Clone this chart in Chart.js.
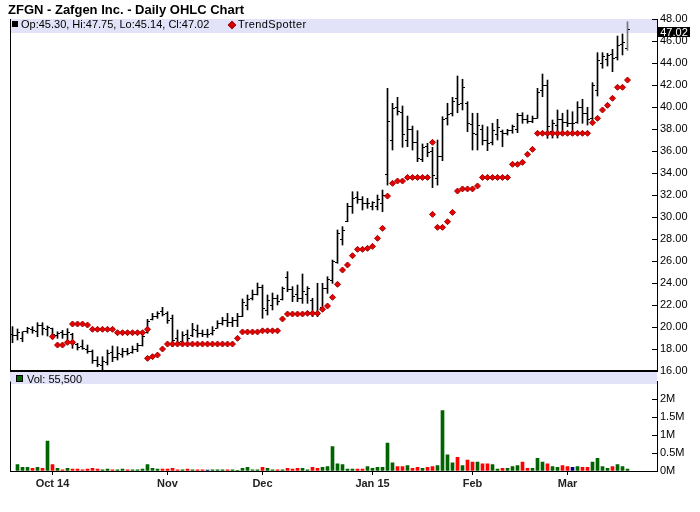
<!DOCTYPE html>
<html><head><meta charset="utf-8">
<script src="https://cdn.jsdelivr.net/npm/chart.js@4.4.1/dist/chart.umd.min.js"></script>
<style>
html,body{margin:0;padding:0;background:#fff;}
#wrap{position:relative;width:700px;height:512px;overflow:hidden;font-family:"Liberation Sans",Arial,sans-serif;color:#000;}
.abs{position:absolute;}
.band{position:absolute;background:#E2E2F8;z-index:1;}
canvas{position:absolute;left:0;z-index:2;}
#title{left:8px;top:2px;font-weight:bold;font-size:13px;line-height:15px;white-space:nowrap;z-index:3;}
.leg{font-size:11px;line-height:11px;white-space:nowrap;z-index:3;}
#pbox{left:658px;width:32px;height:10px;background:#000;color:#fff;font-size:11px;line-height:10px;text-align:center;z-index:3;}
</style></head><body>
<div id="wrap">
  <div id="title" class="abs">ZFGN - Zafgen Inc. - Daily OHLC Chart</div>
  <div class="band" style="left:10px;top:19px;width:647px;height:14px;"></div>
  <div class="abs" style="left:12px;top:21px;width:6px;height:6px;background:#000;z-index:3;"></div>
  <div id="ohlcText" class="abs leg" style="left:21px;top:18.5px;"></div>
  <div class="abs" style="left:229px;top:22px;width:4px;height:4px;background:#E00000;border:1px solid #A00000;transform:rotate(45deg);z-index:3;"></div>
  <div class="abs leg" style="left:238px;top:18.5px;letter-spacing:0.4px;">TrendSpotter</div>
  <div class="band" style="left:10px;top:372px;width:647px;height:12px;"></div>
  <div class="abs" style="left:16px;top:375px;width:5px;height:5px;background:#006400;border:1px solid #000;z-index:3;"></div>
  <div id="volText" class="abs leg" style="left:27px;top:373.5px;"></div>
  <div id="pbox" class="abs"></div>
  <canvas id="pc" width="700" height="390" style="top:0;"></canvas>
  <canvas id="vc" width="700" height="140" style="top:372px;"></canvas>
</div>
<script>
// ---- data (index 0 = 19 Sep 2014 ... index 123 = 18 Mar 2015) ----
const opens = [19.3,19.2,19.0,19.6,19.8,19.6,20.1,19.8,19.9,19.2,
 19.5,19.3,19.3,18.4,18.2,18.0,17.8,17.0,16.5,16.8,
 17.7,17.2,17.5,17.8,17.7,18.0,18.3,19.5,20.7,21.0,
 21.4,21.2,20.8,19.0,18.7,19.3,19.2,19.7,19.4,19.3,
 19.4,19.9,20.3,20.6,20.4,20.6,21.0,22.0,22.6,23.0,
 23.6,21.5,22.0,22.6,22.5,24.5,23.4,23.0,22.6,23.0,
 22.4,21.3,21.8,23.5,24.2,25.9,28.0,29.6,31.0,31.8,
 31.6,31.2,31.0,31.0,31.2,33.9,37.0,40.0,39.5,37.0,
 38.0,36.8,35.2,36.4,36.0,33.5,35.5,39.0,39.4,40.8,
 40.3,40.3,38.4,37.5,38.0,37.0,36.8,37.5,37.8,37.6,
 37.9,38.0,39.2,38.9,38.7,39.0,41.5,42.0,37.8,38.3,
 38.9,38.6,38.5,38.6,40.0,39.4,39.0,41.5,44.0,44.3,
 44.8,44.5,45.7,45.30];
const highs = [20.03,19.82,19.57,19.97,20.03,20.39,20.39,20.1,19.9,19.57,
 19.7,19.85,19.43,18.52,18.82,18.36,17.91,17.3,17.3,17.91,
 18.27,18.21,18.06,18.06,18.27,18.52,19.27,20.7,21.24,21.39,
 21.79,21.39,21.09,19.73,19.57,19.73,20.33,20.18,19.73,19.8,
 20.03,20.57,20.88,21.24,20.88,21.24,22.55,22.91,23.36,24.0,
 23.82,22.91,23.09,22.91,23.64,25.03,23.67,23.82,24.82,23.67,
 22.61,23.97,23.97,24.57,26.09,28.82,29.12,31.24,32.3,32.3,
 31.85,31.7,31.39,32.0,32.45,41.7,40.34,40.88,40.09,39.18,
 38.27,37.85,36.64,36.7,36.34,37.0,39.12,40.34,40.88,42.82,
 42.52,40.48,39.43,39.43,38.36,38.21,38.52,38.88,37.91,37.97,
 38.36,39.43,39.48,39.27,39.18,41.7,43.0,42.45,38.82,39.73,
 39.43,39.73,39.57,40.48,40.7,39.97,42.21,44.94,44.94,44.88,
 45.24,46.45,46.64,47.75];
const lows = [18.57,18.82,18.66,19.43,19.43,19.12,19.27,19.18,18.91,18.97,
 18.97,18.52,18.06,17.91,17.97,17.61,16.7,16.39,16.09,16.55,
 16.85,17.0,17.25,17.45,17.61,17.76,18.27,19.43,20.64,20.79,
 21.0,20.33,18.21,18.36,18.66,18.76,19.12,19.06,19.12,19.06,
 19.27,19.88,20.18,20.03,20.03,20.03,20.94,21.55,22.45,22.91,
 20.79,21.09,21.55,22.0,22.45,23.21,22.3,22.3,22.15,22.15,
 20.94,20.94,21.55,23.06,23.97,25.79,27.45,29.57,30.33,31.24,
 30.64,30.79,30.64,30.64,30.48,32.9,36.09,39.27,36.34,36.39,
 36.09,35.03,35.03,35.48,32.67,32.9,35.12,38.36,39.18,39.48,
 39.73,37.76,36.09,36.09,36.55,36.03,36.55,37.0,36.39,37.45,
 37.61,37.67,38.52,38.52,38.57,38.97,40.94,37.15,37.18,37.18,
 37.61,38.21,37.45,38.52,38.52,38.36,38.82,41.0,43.52,43.73,
 43.21,44.27,44.73,45.14];
const closes = [19.2,19.5,19.55,19.85,19.7,20.1,19.9,20.0,19.3,19.4,
 19.3,19.5,18.5,18.1,18.05,17.8,17.0,16.6,16.9,17.6,
 17.2,17.6,17.8,17.6,18.0,18.3,19.1,20.5,21.0,21.2,
 21.1,20.6,18.8,18.6,19.2,19.0,19.8,19.4,19.3,19.3,
 19.7,20.3,20.6,20.4,20.6,21.0,22.2,22.5,23.0,23.6,
 21.7,22.4,22.6,22.3,23.5,23.4,22.8,22.6,23.2,23.5,
 21.3,21.1,23.5,24.3,26.0,28.5,28.8,31.0,31.7,31.6,
 31.2,31.25,31.35,31.6,32.0,38.7,39.9,39.6,37.5,38.0,
 36.8,35.3,36.3,35.9,33.8,35.5,38.9,39.3,40.5,40.2,
 41.8,38.5,37.6,38.3,37.0,36.7,37.9,38.1,37.6,37.9,
 38.2,39.2,38.9,38.7,38.95,41.3,42.0,38.2,38.5,38.9,
 38.6,38.5,38.5,40.0,39.4,38.9,42.0,44.2,44.6,44.7,
 44.4,45.6,45.9,47.02];
const volumes = [null,175000,100000,100000,75000,100000,75000,825000,175000,75000,
 30000,75000,50000,50000,30000,50000,75000,50000,30000,50000,
 30000,30000,50000,30000,30000,30000,50000,175000,75000,50000,
 50000,50000,75000,30000,30000,50000,30000,30000,30000,25000,
 30000,30000,30000,30000,30000,20000,75000,100000,30000,30000,
 100000,75000,30000,30000,30000,75000,50000,75000,75000,30000,
 100000,75000,100000,125000,675000,200000,175000,50000,50000,50000,
 50000,125000,75000,100000,100000,775000,225000,125000,125000,150000,
 75000,100000,75000,100000,125000,150000,1675000,450000,225000,375000,
 150000,300000,250000,250000,200000,200000,175000,50000,75000,75000,
 125000,150000,250000,75000,75000,350000,250000,200000,125000,100000,
 150000,125000,100000,125000,100000,100000,250000,350000,125000,75000,
 125000,175000,125000,55500];
const tsIdx = [8,9,10,11,12,
 12,13,14,15,
 16,17,18,19,20,
 21,22,23,24,25,26,
 27,
 27,28,29,30,
 31,32,33,34,35,36,37,38,39,40,41,42,43,44,
 45,
 46,47,48,49,50,51,52,53,
 54,55,56,57,58,59,60,61,
 62,63,64,65,66,67,68,69,70,71,72,73,74,75,
 76,77,78,79,80,81,82,83,
 84,
 84,85,86,87,88,89,90,91,92,93,
 94,95,96,97,98,99,
 100,101,102,103,104,
 105,106,107,108,109,110,111,112,113,114,115,
 116,117,118,119,120,121,122,123];
const tsVal = [19.12,18.36,18.36,18.61,18.61,
 20.27,20.27,20.27,20.18,
 19.79,19.79,19.79,19.79,19.79,
 19.48,19.48,19.48,19.48,19.48,19.48,
 19.79,
 17.15,17.3,17.45,18.0,
 18.45,18.45,18.45,18.45,18.45,18.45,18.45,18.45,18.45,18.45,18.45,18.45,18.45,18.45,
 18.97,
 19.55,19.55,19.55,19.55,19.65,19.65,19.65,19.65,
 20.73,21.18,21.18,21.18,21.18,21.24,21.24,21.24,
 21.61,21.91,22.7,23.88,25.18,25.64,26.48,27.06,27.06,27.15,27.33,28.06,28.97,31.9,
 33.06,33.27,33.27,33.6,33.6,33.6,33.6,33.6,
 36.79,
 30.24,29.06,29.06,29.57,30.42,32.36,32.55,32.55,32.55,32.82,
 33.6,33.6,33.6,33.6,33.6,33.6,
 34.79,34.79,34.97,35.7,36.15,
 37.61,37.61,37.61,37.61,37.61,37.61,37.61,37.61,37.61,37.61,37.61,
 38.57,38.97,39.73,40.15,40.79,41.79,41.79,42.45];
const monthStarts = [8,31,50,72,92,111];
const monthLabels = ['Oct 14','Nov','Dec','Jan 15','Feb','Mar'];
const priceTicks = {min:16, max:48, step:2};
const volTicks = [0,500000,1000000,1500000,2000000];

// ---- chart ----
const last = closes.length - 1;
const X_MIN = -0.5, X_MAX = 128.9;
document.getElementById('ohlcText').textContent =
  'Op:' + opens[last].toFixed(2) + ', Hi:' + highs[last].toFixed(2) +
  ', Lo:' + lows[last].toFixed(2) + ', Cl:' + closes[last].toFixed(2);
document.getElementById('volText').textContent = 'Vol: ' + volumes[last].toLocaleString('en-US');

function tickImg(left){
  const c = document.createElement('canvas'); c.width = 5; c.height = 1;
  const g = c.getContext('2d'); g.fillStyle = '#000';
  g.fillRect(left ? 0 : 3, 0, 2, 1); return c;
}
const openImg = tickImg(true), closeImg = tickImg(false);

const frame = {
  id: 'frame',
  beforeDatasetsDraw(chart){ chart.ctx.imageSmoothingEnabled = false; },
  afterDraw(chart, args, opts){
    const {ctx, chartArea: a} = chart;
    ctx.save();
    ctx.strokeStyle = '#000'; ctx.lineWidth = 1;
    ctx.beginPath(); ctx.moveTo(a.left + 0.5, a.top); ctx.lineTo(a.left + 0.5, a.bottom); ctx.stroke();
    const ys = chart.scales.y;
    ys.ticks.forEach(t => {
      const y = Math.round(ys.getPixelForValue(t.value)) + 0.5;
      ctx.beginPath(); ctx.moveTo(a.right - 5, y); ctx.lineTo(a.right, y); ctx.stroke();
    });
    if (opts.bottomBar) {
      ctx.lineWidth = 2;
      ctx.beginPath(); ctx.moveTo(a.left, a.bottom); ctx.lineTo(a.right + 1, a.bottom); ctx.stroke();
    }
    ctx.restore();
    if (opts.priceBox) {
      const y = ys.getPixelForValue(closes[last]);
      const b = document.getElementById('pbox');
      b.textContent = closes[last].toFixed(2);
      b.style.top = (y - 2.5) + 'px';
    }
  }
};

const idx = closes.map((_, i) => i);
const priceChart = new Chart(document.getElementById('pc'), {
  type: 'bar',
  data: {
    datasets: [
      { type: 'scatter', data: tsIdx.map((x, k) => ({x, y: tsVal[k]})),
        pointStyle: 'rectRot', pointRadius: 3, backgroundColor: '#E80000', borderColor: '#A00000', borderWidth: 1 },
      { type: 'scatter', data: idx.map(i => ({x: i, y: opens[i]})), pointStyle: openImg, pointRadius: 2 },
      { type: 'scatter', data: idx.map(i => ({x: i, y: closes[i]})), pointStyle: closeImg, pointRadius: 2 },
      { type: 'bar', data: idx.map(i => ({x: i, y: [lows[i], highs[i]]})), barThickness: 1,
        backgroundColor: c => c.dataIndex === last ? '#777' : '#000', borderWidth: 0 }
    ]
  },
  options: {
    responsive: false, animation: false, devicePixelRatio: 1,
    layout: { padding: { left: 10, top: 19, right: 0, bottom: 19 } },
    plugins: { legend: { display: false }, tooltip: { enabled: false }, frame: { bottomBar: true, priceBox: true } },
    scales: {
      x: { type: 'linear', min: X_MIN, max: X_MAX, display: false, offset: false, grid: { offset: false } },
      y: { position: 'right', min: priceTicks.min, max: priceTicks.max,
           afterFit: s => { s.width = 43; },
           ticks: { stepSize: priceTicks.step, color: '#000', padding: 3,
                    font: { family: '"Liberation Sans", Arial, sans-serif', size: 11 },
                    callback: v => Number(v).toFixed(2) },
           grid: { drawOnChartArea: false, drawTicks: false },
           border: { display: true, color: '#000', width: 1 } }
    }
  },
  plugins: [frame]
});

const volChart = new Chart(document.getElementById('vc'), {
  type: 'bar',
  data: {
    datasets: [{
      data: idx.filter(i => volumes[i] !== null).map(i => ({x: i, y: volumes[i]})),
      barThickness: 3, borderWidth: 0,
      backgroundColor: c => {
        const i = c.raw ? c.raw.x : 0;
        if (i === 0) return '#006400';
        return closes[i] > closes[i-1] ? '#006400' : (closes[i] < closes[i-1] ? '#FF0000' : '#000080');
      }
    }]
  },
  options: {
    responsive: false, animation: false, devicePixelRatio: 1,
    layout: { padding: { left: 10, top: 0, right: 0, bottom: 0 } },
    plugins: { legend: { display: false }, tooltip: { enabled: false }, frame: { bottomBar: false } },
    scales: {
      x: { type: 'linear', min: X_MIN, max: X_MAX, offset: false, position: 'bottom',
           afterFit: s => { s.height = 41; },
           afterBuildTicks: s => { s.ticks = monthStarts.map(v => ({value: v})); },
           ticks: { autoSkip: false, maxRotation: 0, color: '#222', padding: 2,
                    font: { family: '"Liberation Sans", Arial, sans-serif', size: 11, weight: 'bold' },
                    callback: v => monthLabels[monthStarts.indexOf(v)] },
           grid: { offset: false, drawOnChartArea: false, drawTicks: true, tickLength: 4, color: '#000' },
           border: { display: true, color: '#000', width: 1 } },
      y: { position: 'right', min: 0, max: 2475000,
           afterFit: s => { s.width = 43; },
           afterBuildTicks: s => { s.ticks = volTicks.map(v => ({value: v})); },
           ticks: { color: '#000', padding: 3,
                    font: { family: '"Liberation Sans", Arial, sans-serif', size: 11 },
                    callback: v => (v / 1e6) + 'M' },
           grid: { drawOnChartArea: false, drawTicks: false },
           border: { display: true, color: '#000', width: 1 } }
    }
  },
  plugins: [frame]
});
</script>
</body></html>
